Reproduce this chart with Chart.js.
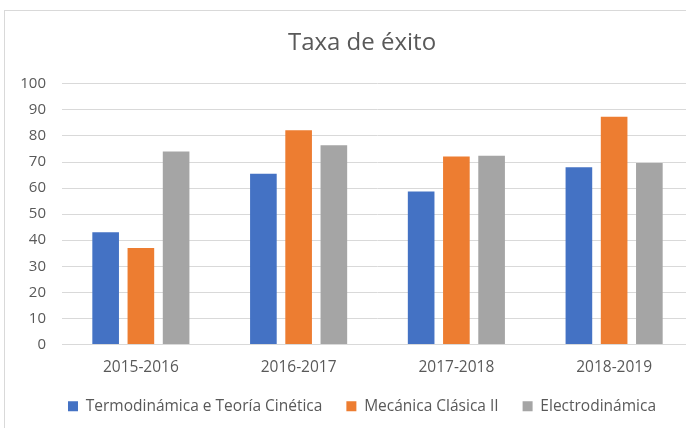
<!DOCTYPE html>
<html>
<head>
<meta charset="utf-8">
<script src="https://cdn.jsdelivr.net/npm/chart.js@4.4.0/dist/chart.umd.min.js"></script>
<style>
  html, body { margin: 0; padding: 0; background: #fff; overflow: hidden; width: 686px; height: 428px; }
  #box { position: absolute; left: 4px; top: 10px; width: 710px; height: 430px; border: 1px solid #d9d9d9; box-sizing: border-box; }
  #wrap { position: absolute; left: 0; top: 0; width: 708px; height: 418px; }
</style>
</head>
<body>
<div id="box"><div id="wrap"><canvas id="exitoChart"></canvas></div></div>
<script>
// cursos
var cursos = ["2015-2016", "2016-2017", "2017-2018", "2018-2019"];

// Taxa de éxito por materia
var termodinamica = [43.1, 65.5, 58.7, 68.0];
var mecanica = [37.0, 82.2, 72.1, 87.4];
var electrodinamica = [74.0, 76.4, 72.4, 69.6];

var eixoY = [0, 10, 20, 30, 40, 50, 60, 70, 80, 90, 100];

var fonte = "'Open Sans', Lato, sans-serif";
var cinza = "#595959";

var ctx = document.getElementById("exitoChart").getContext("2d");

var myBarChart = new Chart(ctx, {
  type: 'bar',
  data: {
    labels: cursos,
    datasets: [{
      label: "Termodinámica e Teoría Cinética",
      data: termodinamica,
      backgroundColor: "#4472C4"
    }, {
      label: "Mecánica Clásica II",
      data: mecanica,
      backgroundColor: "#ED7D31"
    }, {
      label: "Electrodinámica",
      data: electrodinamica,
      backgroundColor: "#A5A5A5"
    }]
  },
  options: {
    responsive: true,
    maintainAspectRatio: false,
    animation: false,
    datasets: {
      bar: { categoryPercentage: 0.67, barPercentage: 0.756 }
    },
    layout: {
      padding: { top: 8, left: 26, right: 20, bottom: 5 }
    },
    plugins: {
      title: {
        display: true,
        text: "Taxa de éxito",
        color: cinza,
        font: { family: fonte, size: 24, weight: 'normal' },
        padding: { top: 10, bottom: 26 }
      },
      legend: {
        position: 'bottom',
        labels: {
          color: cinza,
          font: { family: fonte, size: 15.5 },
          boxWidth: 10,
          boxHeight: 10,
          padding: 24
        }
      },
      tooltip: { enabled: false }
    },
    scales: {
      x: {
        grid: { display: false, drawTicks: false },
        border: { color: "#d9d9d9" },
        ticks: { color: cinza, font: { family: fonte, size: 15.5 }, padding: 14 },
        afterFit: function(axis) {
          axis.height = 30;
          axis.paddingLeft = 0;
          axis.paddingRight = 0;
        }
      },
      y: {
        min: 0,
        max: 100,
        afterBuildTicks: function(axis) {
          axis.ticks = eixoY.map(function(v) { return { value: v }; });
        },
        grid: { color: "#d9d9d9", drawTicks: false },
        border: { display: false },
        ticks: { color: cinza, font: { family: fonte, size: 15 }, padding: 16 },
        afterFit: function(axis) {
          axis.width = 31;
          // no recortar as etiquetas á esquerda
          axis._computeLabelArea = function() { return undefined; };
        }
      }
    }
  }
});
</script>
</body>
</html>
